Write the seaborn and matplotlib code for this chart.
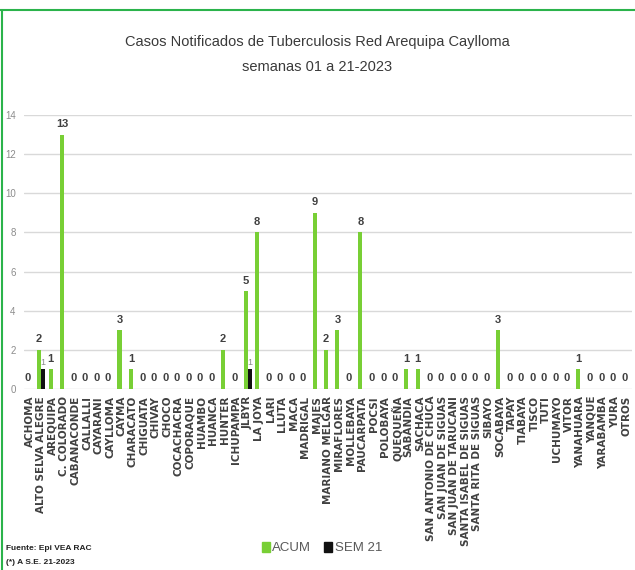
import pandas as pd
import matplotlib
matplotlib.use('Agg')
from matplotlib import pyplot as plt
from matplotlib.lines import Line2D
from matplotlib.patches import Patch
import seaborn as sns

distritos = ['ACHOMA', 'ALTO SELVA ALEGRE', 'AREQUIPA', 'C. COLORADO', 'CABANACONDE',
             'CALLALLI', 'CAYARANI', 'CAYLLOMA', 'CAYMA', 'CHARACATO', 'CHIGUATA',
             'CHIVAY', 'CHOCO', 'COCACHACRA', 'COPORAQUE', 'HUAMBO', 'HUANCA', 'HUNTER',
             'ICHUPAMPA', 'JLBYR', 'LA JOYA', 'LARI', 'LLUTA', 'MACA', 'MADRIGAL', 'MAJES',
             'MARIANO MELGAR', 'MIRAFLORES', 'MOLLEBAYA', 'PAUCARPATA', 'POCSI', 'POLOBAYA',
             'QUEQUEÑA', 'SABANDIA', 'SACHACA', 'SAN ANTONIO DE CHUCA', 'SAN JUAN DE SIGUAS',
             'SAN JUAN DE TARUCANI', 'SANTA ISABEL DE SIGUAS', 'SANTA RITA DE SIGUAS',
             'SIBAYO', 'SOCABAYA', 'TAPAY', 'TIABAYA', 'TISCO', 'TUTI', 'UCHUMAYO', 'VITOR',
             'YANAHUARA', 'YANQUE', 'YARABAMBA', 'YURA', 'OTROS']
acum = [0, 2, 1, 13, 0, 0, 0, 0, 3, 1, 0, 0, 0, 0, 0, 0, 0, 2, 0, 5, 8, 0, 0, 0, 0, 9,
        2, 3, 0, 8, 0, 0, 0, 1, 1, 0, 0, 0, 0, 0, 0, 3, 0, 0, 0, 0, 0, 0, 1, 0, 0, 0, 0]
sem21 = [0, 1, 0, 0, 0, 0, 0, 0, 0, 0, 0, 0, 0, 0, 0, 0, 0, 0, 0, 1, 0, 0, 0, 0, 0, 0,
         0, 0, 0, 0, 0, 0, 0, 0, 0, 0, 0, 0, 0, 0, 0, 0, 0, 0, 0, 0, 0, 0, 0, 0, 0, 0, 0]
series = ['ACUM', 'SEM 21']
colores = {'ACUM': '#78cf35', 'SEM 21': '#111111'}

n = len(distritos)
df = pd.DataFrame({
    'distrito': distritos * 2,
    'serie': [series[0]] * n + [series[1]] * n,
    'casos': acum + sem21,
})

sns.set_style('whitegrid')
plt.rcParams['font.family'] = ['Liberation Sans', 'DejaVu Sans']

fig = plt.figure(figsize=(6.35, 5.7), dpi=100)
ax = fig.add_axes([24 / 635, 181 / 570, 608 / 635, 274 / 570])

sns.barplot(data=df, x='distrito', y='casos', hue='serie', palette=colores,
            width=0.7, ax=ax, legend=False, saturation=1, linewidth=0)

ax.set_ylim(0, 14)
ax.set_xlim(-0.5, n - 0.5)
ax.set_yticks(range(0, 15, 2))
ax.tick_params(axis='y', labelsize=7, labelcolor='#8c8c8c', length=0, pad=6)
ax.tick_params(axis='x', length=0, pad=5)
ax.set_xticks(range(n))
ax.set_xticklabels(distritos, rotation=90, fontsize=7.5, fontweight='bold',
                   color='#404040', family='DejaVu Sans')
ax.set_xlabel('')
ax.set_ylabel('')
ax.grid(axis='x', visible=False)
ax.grid(axis='y', color='#d9d9d9', linewidth=1)
for s in ax.spines.values():
    s.set_visible(False)

# etiquetas de valores
ax.bar_label(ax.containers[0], labels=[str(v) for v in acum], padding=4,
             fontsize=8, fontweight='bold', color='#404040')
ax.bar_label(ax.containers[1], labels=[str(v) if v else '' for v in sem21], padding=2,
             fontsize=6.5, color='#8c8c8c')

fig.text(0.5, 1 - 42 / 570, 'Casos Notificados de Tuberculosis Red Arequipa Caylloma',
         ha='center', va='center', fontsize=10.5, color='#3a3a3a')
fig.text(0.5, 1 - 67 / 570, 'semanas 01 a 21-2023',
         ha='center', va='center', fontsize=10.5, color='#3a3a3a')

handles = [Patch(color=colores[s]) for s in series]
fig.legend(handles, series, loc='center', bbox_to_anchor=(0.507, 22 / 570), ncol=2,
           frameon=False, fontsize=9.5, handlelength=0.6, handleheight=0.8,
           handletextpad=0.2, columnspacing=1.0, labelcolor='#595959')

fig.text(6 / 635, 22 / 570, 'Fuente: Epi VEA RAC', ha='left', va='center',
         fontsize=6, fontweight='bold', color='#222222')
fig.text(6 / 635, 8 / 570, '(*) A S.E. 21-2023', ha='left', va='center',
         fontsize=6, fontweight='bold', color='#222222')

# borde verde
fig.add_artist(Line2D([0, 1], [1 - 10 / 570, 1 - 10 / 570], color='#2bb34b', lw=1.5,
                      transform=fig.transFigure))
fig.add_artist(Line2D([1.5 / 635, 1.5 / 635], [0, 1 - 10 / 570], color='#2bb34b', lw=1.5,
                      transform=fig.transFigure))

fig.savefig('out.png', dpi=100)
